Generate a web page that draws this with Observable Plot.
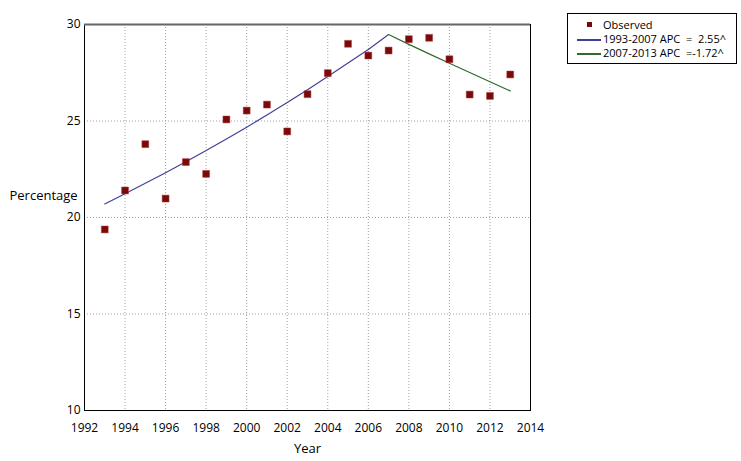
<!DOCTYPE html>
<html>
<head>
<meta charset="utf-8">
<script src="https://cdn.jsdelivr.net/npm/d3@7"></script>
<script src="https://cdn.jsdelivr.net/npm/@observablehq/plot@0.6"></script>
<style>
  body { margin: 0; background: #fff; font-family: "Open Sans", "Noto Sans", sans-serif; }
  #wrap { position: relative; width: 741px; height: 461px; }
  #legend { position: absolute; left: 567px; top: 13px; width: 168px; height: 49px; border: 1px solid #000; background: #fff; font-size: 11px; color: #000; }
  .row { position: absolute; left: 0; height: 14px; line-height: 14px; white-space: pre; }
  .txt { position: absolute; left: 35px; top: 0; }
</style>
</head>
<body>
<div id="wrap"><div id="legend"></div></div>
<script>
const years = [1993,1994,1995,1996,1997,1998,1999,2000,2001,2002,2003,2004,2005,2006,2007,2008,2009,2010,2011,2012,2013];
const observed = [19.38,21.40,23.80,20.98,22.87,22.26,25.08,25.54,25.85,24.46,26.39,27.48,29.00,28.39,28.65,29.24,29.31,28.20,26.37,26.30,27.41];
const fit1Years = [1993,1994,1995,1996,1997,1998,1999,2000,2001,2002,2003,2004,2005,2006,2007];
const fit1Values = [20.70,21.23,21.77,22.32,22.89,23.47,24.07,24.68,25.31,25.96,26.62,27.30,28.00,28.71,29.48];
const fit2Years = [2007,2008,2009,2010,2011,2012,2013];
const fit2Values = [29.48,28.97,28.48,27.99,27.51,27.03,26.56];
const xTicks = [1992,1994,1996,1998,2000,2002,2004,2006,2008,2010,2012,2014];
const yTicks = [10,15,20,25,30];
const legendLabels = ["Observed","1993-2007 APC  =  2.55^","2007-2013 APC  =-1.72^"];

const obs = years.map((y,i)=>({year:y, value:observed[i]}));
const fit1 = fit1Years.map((y,i)=>({year:y, value:fit1Values[i]}));
const fit2 = fit2Years.map((y,i)=>({year:y, value:fit2Values[i]}));

const chart = Plot.plot({
  width: 741, height: 461,
  marginLeft: 84, marginRight: 211, marginTop: 24, marginBottom: 51,
  style: {fontFamily: '"Open Sans", "Noto Sans", sans-serif', fontSize: "12px", color: "#000", background: "transparent"},
  x: {domain: [1992, 2014], label: null},
  y: {domain: [10, 30], label: null},
  marks: [
    Plot.gridX(xTicks.slice(1,-1), {stroke: "#888", strokeOpacity: 0.8, strokeDasharray: "1,2"}),
    Plot.gridY(yTicks.slice(1,-1), {stroke: "#888", strokeOpacity: 0.8, strokeDasharray: "1,2"}),
    Plot.frame({stroke: "#000"}),
    Plot.ruleY([30], {stroke: "#666", strokeWidth: 2}),
    Plot.axisX({ticks: xTicks, tickFormat: d => String(d), tickSize: 0, tickPadding: 13, fontSize: 12, label: null}),
    Plot.axisY({ticks: yTicks, tickSize: 0, tickPadding: 4, fontSize: 12, label: null}),
    Plot.line(fit1, {x: "year", y: "value", stroke: "#40409a", strokeWidth: 1.2}),
    Plot.line(fit2, {x: "year", y: "value", stroke: "#2f6a2f", strokeWidth: 1.2}),
    Plot.dot(obs, {x: "year", y: "value", symbol: "square", r: 3.9, fill: "#7a0a0a", stroke: "#b04040", strokeWidth: 0.5}),
    Plot.text(["Percentage"], {frameAnchor: "left", textAnchor: "start", dx: -75, dy: -22, fontSize: 13}),
    Plot.text(["Year"], {frameAnchor: "bottom", dy: 42, fontSize: 13})
  ]
});
document.getElementById("wrap").prepend(chart);

const legend = document.getElementById("legend");
const colors = ["#7a0a0a", "#40409a", "#2f6a2f"];
legendLabels.forEach((lab, i) => {
  const row = document.createElement("div");
  row.className = "row";
  row.style.top = (4 + i * 14) + "px";
  row.style.width = "166px";
  if (i === 0) {
    const sq = document.createElement("div");
    sq.style.cssText = "position:absolute;left:19px;top:4px;width:5px;height:5px;background:" + colors[i];
    row.appendChild(sq);
  } else {
    const ln = document.createElement("div");
    ln.style.cssText = "position:absolute;left:9px;top:7px;width:24px;height:2px;background:" + colors[i];
    row.appendChild(ln);
  }
  const t = document.createElement("span");
  t.className = "txt";
  t.textContent = lab;
  row.appendChild(t);
  legend.appendChild(row);
});
</script>
</body>
</html>
